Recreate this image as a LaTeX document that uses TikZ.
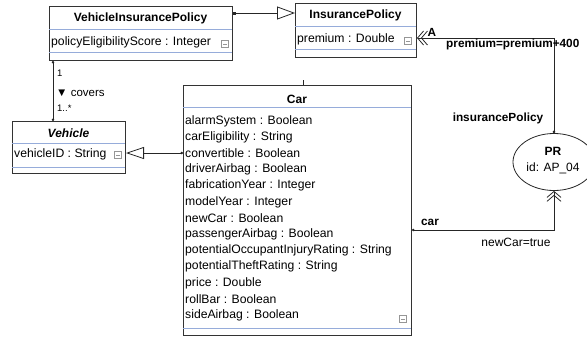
\documentclass[tikz,border=0pt]{standalone}
\usepackage{fontspec}
\setmainfont{Liberation Sans}
\usetikzlibrary{arrows.meta,shapes.geometric}
\definecolor{sepblue}{RGB}{150,172,218}
\definecolor{icongray}{RGB}{150,150,150}

\tikzset{
  classbox/.style={draw=black!80, line width=1pt, fill=white, inner sep=0pt, anchor=north west},
  sepline/.style={draw=sepblue, line width=0.9pt},
  attr/.style={anchor=west, inner sep=0pt, font=\fontsize{12.2}{14}\selectfont},
  title/.style={inner sep=0pt, font=\fontsize{12}{14}\selectfont\bfseries},
  lbl/.style={inner sep=0pt, font=\fontsize{11.5}{13}\selectfont},
  blbl/.style={inner sep=0pt, font=\fontsize{11.8}{13}\selectfont\bfseries},
  conn/.style={line width=0.8pt, black!85},
}

\begin{document}
\begin{tikzpicture}[x=1pt, y=-1pt]
  \useasboundingbox (0,0) rectangle (587,338);

  % classes
  \node[classbox, minimum width=183pt, minimum height=54pt] (vip) at (49,6) {};
  \node[classbox, minimum width=121pt, minimum height=54pt] (ip) at (295,3) {};
  \node[classbox, minimum width=113pt, minimum height=52pt] (vehicle) at (12,121) {};
  \node[classbox, minimum width=228pt, minimum height=250pt] (car) at (183,85) {};

  \draw[sepline] (49,29) -- (232,29) (49,52) -- (232,52);
  \draw[sepline] (295,26) -- (416,26) (295,49) -- (416,49);
  \draw[sepline] (12,143) -- (125,143) (12,167) -- (125,167);
  \draw[sepline] (183,107) -- (411,107) (183,328) -- (411,328);

  \node[title] (viptitle) at (140.5,18) {VehicleInsurancePolicy};
  \node[attr] (vipattr) at (51,42) {policyEligibilityScore : Integer};
  \node[title] (iptitle) at (355.5,15) {InsurancePolicy};
  \node[attr] (ipattr) at (297,39) {premium : Double};
  \node[title, font=\fontsize{12}{14}\selectfont\bfseries\itshape] (vehtitle) at (68.5,133) {Vehicle};
  \node[attr] (vehattr) at (14,154) {vehicleID : String};
  \node[title] (cartitle) at (297,99) {Car};
  \foreach \t [count=\i from 0] in {alarmSystem : Boolean, carEligibility : String,
      convertible : Boolean, driverAirbag : Boolean, fabricationYear : Integer,
      modelYear : Integer, newCar : Boolean, passengerAirbag : Boolean,
      potentialOccupantInjuryRating : String, potentialTheftRating : String,
      price : Double, rollBar : Boolean, sideAirbag : Boolean}
    \node[attr] (carattr\i) at (185,121+16.2*\i) {\t};

  % collapse icons
  \foreach \ix/\iy in {225/44, 408/41, 118/155, 403/319} {
    \draw[icongray, line width=0.6pt] (\ix-3.5,\iy-3.5) rectangle ++(7,7);
    \draw[icongray, line width=0.6pt] (\ix-2,\iy) -- ++(4,0);
  }

  % rule
  \node[ellipse, draw=black!85, line width=0.8pt, minimum width=82pt, minimum height=57pt] (pr) at (554,162) {};
  \node[blbl, font=\fontsize{12}{14}\selectfont\bfseries] (prname) at (553,151) {PR};
  \node[lbl, font=\fontsize{12}{14}\selectfont] (prid) at (553,168) {id: AP\_04};

  % connectors
  \draw[conn, {Square[length=3pt,width=3pt]}-{Triangle[open,length=18pt,width=13pt]}]
    ([yshift=-7pt]vip.north east) -- ([yshift=-10pt]ip.north west);
  \draw[conn, {Circle[length=2.5pt]}-{Circle[length=2.5pt]}]
    ([xshift=4pt]vip.south west) -- ([xshift=4pt]vip.south west |- vehicle.north);
  \node[lbl, anchor=west, font=\fontsize{9.5}{11}\selectfont] (m1) at (57,73) {1};
  \node[lbl, anchor=west] (assoc) at (56,93) {▼ covers};
  \node[lbl, anchor=west, font=\fontsize{9.5}{11}\selectfont] (m2) at (57,108) {1..*};
  \draw[conn, {Circle[length=2.5pt]}-{Triangle[open,length=18pt,width=12pt]}]
    ([yshift=-68pt]car.north west) -- ([yshift=-68pt]car.north west -| vehicle.east);
  \draw[conn] (303,80) -- (303,85);

  \draw[conn, {Circle[length=2.5pt]}-{Straight Barb[length=6pt,width=14pt,sep=-3pt]Straight Barb[length=6pt,width=14pt]}]
    (pr.north) |- ([yshift=-35pt]ip.north east);
  \node[blbl] (lblA) at (432,32) {A};
  \node[blbl, anchor=west] (lblupd) at (446,44) {premium=premium+400};
  \node[blbl] (lblip) at (498,118) {insurancePolicy};

  \draw[conn, {Circle[length=2.5pt]}-{Straight Barb[length=6pt,width=14pt,sep=-3pt]Straight Barb[length=6pt,width=14pt]}]
    ([yshift=-145pt]car.north east) -| (pr.south);
  \node[blbl] (lblcar) at (430,222) {car};
  \node[lbl, font=\fontsize{12}{14}\selectfont] (lblcond) at (516,242) {newCar=true};
\end{tikzpicture}
\end{document}
